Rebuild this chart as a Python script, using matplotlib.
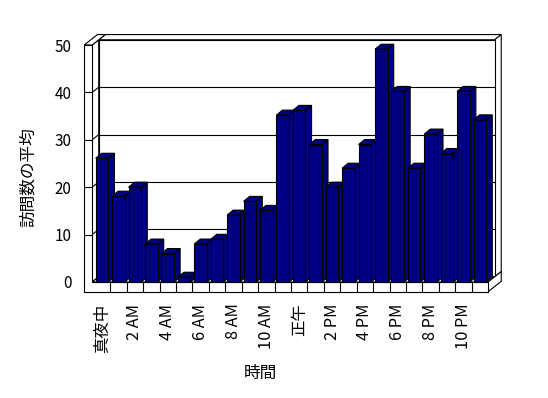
import matplotlib
matplotlib.use('Agg')
import matplotlib.pyplot as plt
from matplotlib.patches import Polygon

plt.rcParams['font.family'] = ['Noto Sans CJK JP', 'DejaVu Sans']

# ---- data ----
hours = list(range(24))
visits = [26.1, 18.1, 20.0, 8.0, 6.0, 1.0, 8.0, 9.0, 14.1, 17.0, 15.1, 35.2,
          36.2, 29.0, 20.0, 24.0, 29.0, 49.1, 40.2, 24.0, 31.2, 27.1, 40.2, 34.2]
tick_positions = hours[::2]
tick_labels = ['真夜中', '2 AM', '4 AM', '6 AM', '8 AM', '10 AM',
               '正午', '2 PM', '4 PM', '6 PM', '8 PM', '10 PM']
y_ticks = [0, 10, 20, 30, 40, 50]
y_label = '訪問数の平均'
x_label = '時間'

W, H = 548, 398
fig = plt.figure(figsize=(W / 100, H / 100), dpi=100)
fig.patch.set_facecolor('white')
ax = fig.add_axes([93.8 / W, (H - 282) / H, 394.3 / W, 237 / H])
ax.set_xlim(-0.5, 23.5)
ax.set_ylim(0, 50)
ax.patch.set_visible(False)
for s in ax.spines.values():
    s.set_visible(False)

LW = 0.8
DX, DY = 0.40, 1.10        # one depth unit (front -> back wall) in data units
BDX, BDY = 0.37, 1.06      # bar depth


def P(x, v, d):
    return (x + d * DX, v + d * DY)


def face(pts, z, fc='white'):
    ax.add_patch(Polygon(pts, closed=True, facecolor=fc, edgecolor='black',
                         lw=LW, zorder=z, clip_on=False, joinstyle='miter'))


def seg(a, b, z):
    ax.plot([a[0], b[0]], [a[1], b[1]], color='black', lw=LW, zorder=z,
            clip_on=False, solid_capstyle='butt')


xo, xi, xr = -1.08, -0.6, 23.5
vb, vt = -2.05, y_ticks[-1]

# back wall slab
face([P(xi, vt, 1), P(xr, vt, 1), P(xr, vt, 2), P(xi, vt, 2)], 1)
face([P(xr, 0, 1), P(xr, vt, 1), P(xr, vt, 2), P(xr, 0, 2)], 1)
face([P(xi, 0, 1), P(xr, 0, 1), P(xr, vt, 1), P(xi, vt, 1)], 1)
# left wall inner face
face([P(xi, 0, 0), P(xi, 0, 1), P(xi, vt, 1), P(xi, vt, 0)], 1.2)
# gridlines
for v in y_ticks[1:-1]:
    seg(P(xi, v, 1), P(xr, v, 1), 1.5)
    seg(P(xi, v, 0), P(xi, v, 1), 1.5)
    seg(P(xo, v, 0), P(xi, v, 0), 3.5)
# floor top and right face
face([P(xi, 0, 0), P(xr, 0, 0), P(xr, 0, 1), P(xi, 0, 1)], 2)
face([P(xr, vb, 0), P(xr, vb, 2), P(xr, 0, 2), P(xr, 0, 0)], 2)
# left wall top
face([P(xo, vt, 0), P(xi, vt, 0), P(xi, vt, 2), P(xo, vt, 2)], 3)
# front L face (left wall front + floor front)
face([P(xo, vb, 0), P(xr, vb, 0), P(xr, 0, 0), P(xi, 0, 0),
      P(xi, vt, 0), P(xo, vt, 0)], 3)
for k in range(1, 24):
    seg(P(k - 0.5, vb, 0), P(k - 0.5, 0, 0), 3.5)

# bars
navy = '#000080'
bw = 0.77
bars = ax.bar(hours, visits, width=bw, color=navy, edgecolor='black',
              linewidth=LW, clip_on=False)
for i, (b, v) in enumerate(zip(bars, visits)):
    x0 = hours[i] - bw / 2
    x1 = hours[i] + bw / 2
    b.set_zorder(10 + i + 0.5)
    side = [(x1, 0), (x1 + BDX, BDY), (x1 + BDX, v + BDY), (x1, v)]
    top = [(x0, v), (x1, v), (x1 + BDX, v + BDY), (x0 + BDX, v + BDY)]
    face(side, 10 + i, navy)
    face(top, 10 + i, navy)

# ticks / labels
ax.set_yticks(y_ticks)
ax.set_yticklabels([str(t) for t in y_ticks])
ax.tick_params(axis='y', length=0, pad=15.9, labelsize=11)
ax.set_xticks(tick_positions)
ax.set_xticklabels(tick_labels, rotation=90)
ax.tick_params(axis='x', length=0, pad=15.5, labelsize=11.8)

ax.set_ylabel(y_label, fontsize=12, va='center', ha='center')
ax.yaxis.set_label_coords((28 - 93.8) / 394.3, (282 - 177) / 237)
ax.set_xlabel(x_label, fontsize=12, va='center', ha='center')
ax.xaxis.set_label_coords((260 - 93.8) / 394.3, (282 - 373) / 237)

fig.savefig('out.png', dpi=100, facecolor='white')
